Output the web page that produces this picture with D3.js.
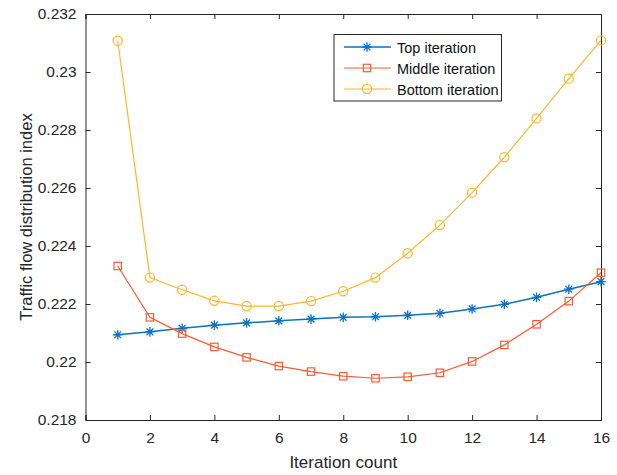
<!DOCTYPE html>
<html><head><meta charset="utf-8">
<script src="https://cdn.jsdelivr.net/npm/d3@7"></script>
<style>body{margin:0;background:#fff}svg{display:block}text{font-family:"Liberation Sans",Arial,sans-serif}</style>
</head><body>
<script>
const iterations = [1,2,3,4,5,6,7,8,9,10,11,12,13,14,15,16];
const topIter = [0.22094,0.22104,0.22116,0.22127,0.22135,0.22142,0.22148,0.22154,0.22156,0.22161,0.22168,0.22183,0.22199,0.22223,0.22251,0.22277];
const middleIter = [0.22331,0.22154,0.22098,0.22052,0.22016,0.21986,0.21967,0.21951,0.21944,0.21949,0.21963,0.22002,0.22059,0.22130,0.22210,0.22308];
const bottomIter = [0.23108,0.22291,0.22249,0.22211,0.22193,0.22193,0.22210,0.22244,0.22291,0.22375,0.22472,0.22584,0.22706,0.22840,0.22977,0.23109];
const xTicks = [0,2,4,6,8,10,12,14,16];
const yTicks = [0.218,0.22,0.222,0.224,0.226,0.228,0.23,0.232];
const seriesNames = ["Top iteration","Middle iteration","Bottom iteration"];
const colors = ["#0C72C4","#FF5A33","#FFB629"];

const W=617,H=475;
const m={l:85.5,r:16,t:14,b:55};
const svg=d3.select("body").append("svg").attr("width",W).attr("height",H);
const x=d3.scaleLinear().domain([0,16]).range([m.l,W-m.r]);
const y=d3.scaleLinear().domain([0.218,0.232]).range([H-m.b,m.t]);
const fmt=d => (+d.toFixed(3)).toString();

const tl=5;
const gx=svg.append("g").attr("transform",`translate(0,${H-m.b})`)
  .call(d3.axisBottom(x).tickValues(xTicks).tickSize(-tl).tickPadding(12).tickFormat(d=>d));
const gxt=svg.append("g").attr("transform",`translate(0,${m.t})`)
  .call(d3.axisTop(x).tickValues(xTicks).tickSize(-tl).tickFormat(""));
const gy=svg.append("g").attr("transform",`translate(${m.l},0)`)
  .call(d3.axisLeft(y).tickValues(yTicks).tickSize(-tl).tickPadding(9).tickFormat(fmt));
const gyr=svg.append("g").attr("transform",`translate(${W-m.r},0)`)
  .call(d3.axisRight(y).tickValues(yTicks).tickSize(-tl).tickFormat(""));
[gx,gxt,gy,gyr].forEach(g=>{
  g.select(".domain").attr("stroke","#262626").attr("stroke-width",1);
  g.selectAll(".tick line").attr("stroke","#262626").attr("stroke-width",1);
  g.selectAll(".tick text").attr("fill","#262626").style("font-size","15.5px").style("font-family","Liberation Sans, Arial, sans-serif");
});

svg.append("text").attr("x",(m.l+W-m.r)/2).attr("y",468).attr("text-anchor","middle")
  .style("font-size","17px").attr("fill","#262626").text("Iteration count");
svg.append("text").attr("transform",`translate(32,${(m.t+H-m.b)/2}) rotate(-90)`).attr("text-anchor","middle")
  .style("font-size","16.5px").attr("fill","#262626").text("Traffic flow distribution index");

const data=[topIter,middleIter,bottomIter];
const line=d3.line().x((d,i)=>x(iterations[i])).y(d=>y(d));

function marker(g,type,color){
  if(type===0){
    const r=4.8;
    g.append("path").attr("d",`M${-r},0H${r}M0,${-r}V${r}M${-r*0.7},${-r*0.7}L${r*0.7},${r*0.7}M${-r*0.7},${r*0.7}L${r*0.7},${-r*0.7}`)
      .attr("stroke",color).attr("stroke-width",1.3).attr("fill","none");
  } else if(type===1){
    g.append("rect").attr("x",-3.7).attr("y",-3.7).attr("width",7.4).attr("height",7.4)
      .attr("stroke",color).attr("stroke-width",1.2).attr("fill","none");
  } else {
    g.append("circle").attr("r",4.6).attr("stroke",color).attr("stroke-width",1.2).attr("fill","none");
  }
}

data.forEach((s,k)=>{
  svg.append("path").datum(s).attr("d",line).attr("fill","none")
    .attr("stroke",colors[k]).attr("stroke-width",k===0?1.5:1.2);
  s.forEach((v,i)=>{
    const g=svg.append("g").attr("transform",`translate(${x(iterations[i])},${y(v)})`);
    marker(g,k,colors[k]);
  });
});

const lg=svg.append("g");
lg.append("rect").attr("x",334).attr("y",34.5).attr("width",167.5).attr("height",66.5)
  .attr("fill","#fff").attr("stroke","#262626").attr("stroke-width",1);
seriesNames.forEach((n,k)=>{
  const yy=47+k*21;
  lg.append("line").attr("x1",344).attr("x2",391).attr("y1",yy).attr("y2",yy).attr("stroke",colors[k]).attr("stroke-width",k===0?1.5:1.2);
  const g=lg.append("g").attr("transform",`translate(367,${yy})`);
  marker(g,k,colors[k]);
  lg.append("text").attr("x",397).attr("y",yy+5.5).style("font-size","14.5px").attr("fill","#111").text(n);
});
</script>
</body></html>
